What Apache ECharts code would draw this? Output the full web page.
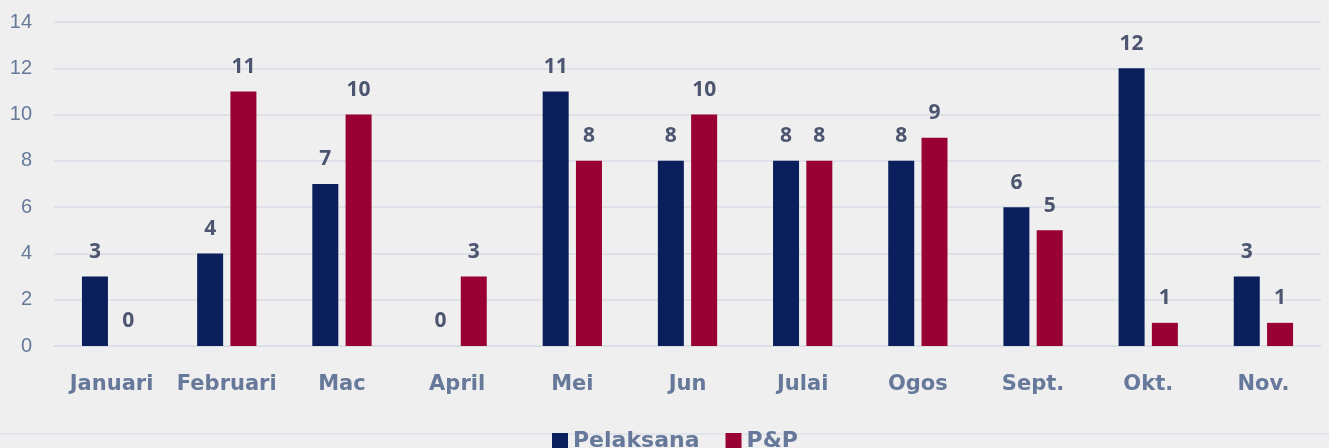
<!DOCTYPE html>
<html><head><meta charset="utf-8">
<script src="https://cdn.jsdelivr.net/npm/echarts@6/dist/echarts.min.js"></script>
<style>html,body{margin:0;padding:0;background:#efefef}#c{width:1329px;height:448px}</style>
</head><body><div id="c"></div>
<script>
const categories = ['Januari','Februari','Mac','April','Mei','Jun','Julai','Ogos','Sept.','Okt.','Nov.'];
const pelaksana = [3,4,7,0,11,8,8,8,6,12,3];
const pnp = [0,11,10,3,8,10,8,9,5,1,1];
const seriesNames = ['Pelaksana','P&P'];
const chart = echarts.init(document.getElementById('c'));
const lbl = {show:true, position:'top', distance:14, color:'#4d5670', fontSize:21, fontWeight:'bold', fontFamily:'Open Sans'};
chart.setOption({
  backgroundColor:'#efefef',
  animation:false,
  grid:{left:54, right:8, top:22, bottom:102},
  legend:{bottom:-9, left:547, itemWidth:16, itemHeight:16, itemGap:26, icon:'rect',
    textStyle:{color:'#66799a', fontSize:22, fontWeight:'bold', fontFamily:'DejaVu Sans'}, data:seriesNames},
  xAxis:{type:'category', data:categories,
    axisLine:{show:true, lineStyle:{color:'#d8dde6'}}, axisTick:{show:false},
    axisLabel:{interval:0, color:'#66799a', fontSize:21, fontWeight:'bold', fontFamily:'DejaVu Sans', margin:28}},
  yAxis:{type:'value', min:0, max:14, interval:2,
    axisLine:{show:false}, axisTick:{show:false},
    splitLine:{lineStyle:{color:'#d8dde6', width:1.5}},
    axisLabel:{color:'#66799a', fontSize:20, fontFamily:'Liberation Sans', margin:22}},
  graphic:[{type:'line', shape:{x1:0,y1:434,x2:1329,y2:434}, style:{stroke:'#dde2ea', lineWidth:1.5}, silent:true}],
  series:[
    {name:seriesNames[0], type:'bar', data:pelaksana, barWidth:26, barGap:'28%', itemStyle:{color:'#0b1f5c'}, label:lbl},
    {name:seriesNames[1], type:'bar', data:pnp, barWidth:26, itemStyle:{color:'#990033'}, label:lbl}
  ]
});
</script></body></html>
